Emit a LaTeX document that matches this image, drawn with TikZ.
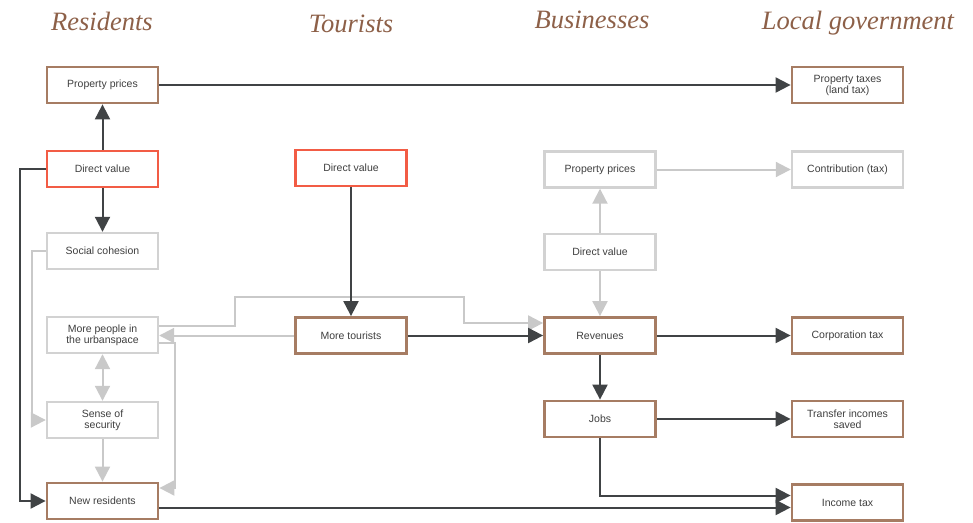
\documentclass[tikz,border=0pt]{standalone}
\usepackage{fontspec}
\setmainfont{Liberation Sans}
\newfontfamily\headfont{Liberation Serif}
\usetikzlibrary{arrows.meta}
\definecolor{headbrown}{HTML}{8D6048}
\definecolor{boxbrown}{HTML}{A67C63}
\definecolor{boxred}{HTML}{F25C45}
\definecolor{boxgrey}{HTML}{D2D2D2}
\definecolor{linedark}{HTML}{404345}
\definecolor{linegrey}{HTML}{C9C9C9}
\definecolor{txt}{HTML}{3F3F3F}
\tikzset{
  box/.style={draw, fill=white, minimum width=111pt, minimum height=36pt,
    inner sep=2pt, align=center, text=txt,
    font=\fontsize{10.5}{11}\selectfont},
  keybox/.style={box, draw=boxbrown, line width=2.8pt},
  sourcebox/.style={box, draw=boxred, line width=2.8pt},
  softbox/.style={box, draw=boxgrey, line width=2.4pt},
  header/.style={anchor=base, text=headbrown,
    font=\headfont\itshape\fontsize{26.5}{26.5}\selectfont},
  tip/.style={Triangle[length=15pt,width=15pt]},
  darkarrow/.style={draw=linedark, line width=2pt, -{Triangle[length=15pt,width=15pt]}},
  softarrow/.style={draw=linegrey, line width=2pt, -{Triangle[length=15pt,width=15pt]}},
  softboth/.style={draw=linegrey, line width=2pt,
    {Triangle[length=15pt,width=15pt]}-{Triangle[length=15pt,width=15pt]}},
}
\begin{document}
\begin{tikzpicture}[x=1pt,y=-1pt]
\useasboundingbox (0,0) rectangle (973,522);

% column headings
\node[header] (hres) at (102,30) {Residents};
\node[header] (htour) at (351,32) {Tourists};
\node[header] (hbus) at (592,28) {Businesses};
\node[header] (hgov) at (858,29) {Local government};

% residents
\node[keybox]    (rpp)   at (102.5,85)  {Property prices};
\node[sourcebox] (rdv)   at (102.5,169) {Direct value};
\node[softbox]   (rsc)   at (102.5,251) {Social cohesion};
\node[softbox]   (rmore) at (102.5,335) {More people in\\the urbanspace};
\node[softbox]   (rsec)  at (102.5,420) {Sense of\\security};
\node[keybox]    (rnew)  at (102.5,501) {New residents};

% tourists
\node[sourcebox] (tdv)   at (351,168) {Direct value};
\node[keybox]    (tmore) at (351,335.5) {More tourists};

% businesses
\node[softbox] (bpp)   at (600,169.5) {Property prices};
\node[softbox] (bdv)   at (600,252) {Direct value};
\node[keybox]  (brev)  at (600,335.5) {Revenues};
\node[keybox]  (bjobs) at (600,419) {Jobs};

% local government
\node[keybox]  (ptax)  at (847.5,85)  {Property taxes\\(land tax)};
\node[softbox] (contr) at (847.5,169.5) {Contribution (tax)};
\node[keybox]  (ctax)  at (847.5,335.5) {Corporation tax};
\node[keybox]  (ttax)  at (847.5,419) {Transfer incomes\\saved};
\node[keybox]  (itax)  at (847.5,502.5) {Income tax};

% weaker effects
\draw[softarrow] (rsc.west) -- ++(-14,0) |- (rsec.west);
\draw[softboth] (rmore.south) -- (rsec.north);
\draw[softarrow] (rsec.south) -- (rnew.north);
\draw[softarrow] (tmore.west) -- (tmore.west -| rmore.east);
\coordinate (loopa) at (235,297);
\coordinate (loopb) at (464,323);
\draw[softarrow] ([yshift=9pt]rmore.east) -| (loopa) -| (loopb) -- ([yshift=12.5pt]brev.west);
\draw[softarrow] ([yshift=-8pt]rmore.east) -- ++(16,0) |- ([yshift=13pt]rnew.east);
\draw[softarrow] (bdv.north) -- (bpp.south);
\draw[softarrow] (bdv.south) -- (brev.north);
\draw[softarrow] (bpp.east) -- (contr.west);

% main effects
\draw[darkarrow] (rdv.north) -- (rpp.south);
\draw[darkarrow] (rdv.south) -- (rsc.north);
\draw[darkarrow] (rpp.east) -- (ptax.west);
\draw[darkarrow] (rdv.west) -- ++(-26,0) |- (rnew.west);
\draw[darkarrow] (tdv.south) -- (tmore.north);
\draw[darkarrow] (tmore.east) -- (brev.west);
\draw[darkarrow] (brev.east) -- (ctax.west);
\draw[darkarrow] (brev.south) -- (bjobs.north);
\draw[darkarrow] (bjobs.east) -- (ttax.west);
\draw[darkarrow] (bjobs.south) |- ([yshift=7pt]itax.west);
\coordinate (itaxlow) at ([yshift=-5pt]itax.west);
\draw[darkarrow] (itaxlow -| rnew.east) -- (itaxlow);
\end{tikzpicture}
\end{document}
